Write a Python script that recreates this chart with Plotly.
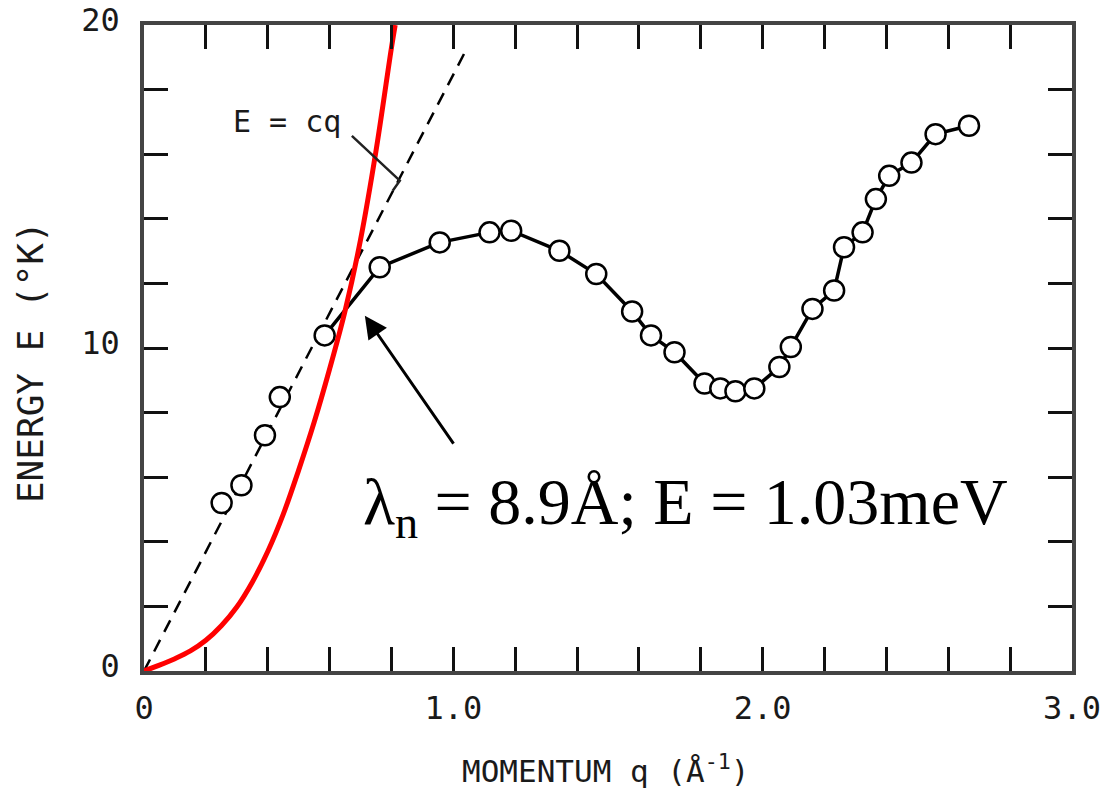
import plotly.graph_objects as go

# ---- data ----
q_data = [0.251, 0.315, 0.391, 0.439, 0.584, 0.762, 0.956, 1.117, 1.187, 1.343,
          1.462, 1.578, 1.639, 1.715, 1.812, 1.863, 1.912, 1.973, 2.054, 2.091,
          2.161, 2.231, 2.263, 2.323, 2.366, 2.409, 2.481, 2.559, 2.667]
E_data = [5.20, 5.75, 7.30, 8.48, 10.39, 12.50, 13.27, 13.58, 13.63, 13.01,
          12.29, 11.13, 10.39, 9.87, 8.90, 8.75, 8.66, 8.75, 9.41, 10.03,
          11.21, 11.78, 13.12, 13.58, 14.61, 15.33, 15.74, 16.62, 16.88]
line_start = 4  # solid connecting line begins at this point

q_red = [0.0, 0.05, 0.10, 0.15, 0.20, 0.25, 0.30, 0.35, 0.40, 0.45, 0.50, 0.55,
         0.60, 0.65, 0.70, 0.75, 0.80, 0.812]
E_red = [0.0, 0.18, 0.38, 0.62, 0.95, 1.40, 1.98, 2.75, 3.70, 4.85, 6.22, 7.70,
         9.35, 11.15, 13.35, 16.10, 19.30, 20.0]

q_cq = [0.0, 1.043]
E_cq = [0.0, 19.26]

q_leader = [0.672, 0.827, 0.804]
E_leader = [16.57, 15.18, 14.87]

x_tickvals = [0, 1, 2, 3]
x_ticktext = ["0", "1.0", "2.0", "3.0"]
y_tickvals = [0, 10, 20]
y_ticktext = ["0", "10", "20"]

arrow_head = (0.714, 11.0)
arrow_tail = (1.004, 6.99)
label_pos = (0.700, 5.10)
cq_label_pos = (0.462, 17.0)

MONO = "DejaVu Sans Mono"

fig = go.Figure()

fig.add_trace(go.Scatter(x=q_cq, y=E_cq, mode="lines",
                         line=dict(color="black", width=2.5, dash="13px,9px"),
                         showlegend=False, hoverinfo="skip"))
fig.add_trace(go.Scatter(x=q_data[line_start:], y=E_data[line_start:], mode="lines",
                         line=dict(color="black", width=3.5),
                         showlegend=False, hoverinfo="skip"))
fig.add_trace(go.Scatter(x=q_data, y=E_data, mode="markers",
                         marker=dict(symbol="circle", size=20, color="white",
                                     line=dict(color="black", width=2.5)),
                         showlegend=False))
fig.add_trace(go.Scatter(x=q_red, y=E_red, mode="lines",
                         line=dict(color="#ff0000", width=5, shape="spline", smoothing=1.0),
                         showlegend=False, hoverinfo="skip"))
fig.add_trace(go.Scatter(x=q_leader, y=E_leader, mode="lines",
                         line=dict(color="#222", width=2.5),
                         showlegend=False, hoverinfo="skip"))

axis_common = dict(showgrid=False, zeroline=False, showline=True, linecolor="#444",
                   linewidth=3.5, mirror="ticks", ticks="inside", ticklen=24, tickwidth=2.5,
                   tickcolor="#111", automargin=False,
                   tickfont=dict(family=MONO, size=32, color="#1a1a1a"))

fig.update_xaxes(range=[0, 3.0], tickmode="array", tickvals=x_tickvals, ticktext=x_ticktext,
                 ticklabelstandoff=6,
                 minor=dict(ticks="inside", ticklen=24, tickwidth=2.5, tickcolor="#111", dtick=0.2,
                            showgrid=False),
                 **axis_common)
fig.update_yaxes(range=[0, 20], tickmode="array", tickvals=y_tickvals, ticktext=y_ticktext,
                 ticklabelstandoff=14, ticklabelshift=-5,
                 minor=dict(ticks="inside", ticklen=24, tickwidth=2.5, tickcolor="#111", dtick=2,
                            showgrid=False),
                 **axis_common)

fig.add_annotation(x=arrow_head[0], y=arrow_head[1], ax=arrow_tail[0], ay=arrow_tail[1],
                   xref="x", yref="y", axref="x", ayref="y", text="", showarrow=True,
                   arrowhead=2, arrowsize=1.5, arrowwidth=3, arrowcolor="black")
fig.add_annotation(x=label_pos[0], y=label_pos[1], xref="x", yref="y", xanchor="left",
                   yanchor="middle", showarrow=False,
                   text="λ<sub>n</sub> = 8.9Å; E = 1.03meV",
                   font=dict(family="Liberation Serif", size=66, color="black"))
fig.add_annotation(x=cq_label_pos[0], y=cq_label_pos[1], xref="x", yref="y", showarrow=False,
                   xanchor="center", yanchor="middle",
                   text="E = cq", font=dict(family=MONO, size=30, color="#1a1a1a"))
fig.add_annotation(x=-0.123, y=0.478, xref="paper", yref="paper", showarrow=False,
                   xanchor="center", yanchor="middle",
                   textangle=-90, text="ENERGY E (°K)",
                   font=dict(family=MONO, size=36, color="#1a1a1a"))
fig.add_annotation(x=0.497, y=-0.152, xref="paper", yref="paper", showarrow=False,
                   xanchor="center", yanchor="middle",
                   text="MOMENTUM q (Å<sup>-1</sup>)",
                   font=dict(family=MONO, size=31, color="#1a1a1a"))

fig.update_layout(width=1113, height=791, margin=dict(l=144, r=41, t=25, b=120),
                  plot_bgcolor="white", paper_bgcolor="white")

fig.write_html("out.html")
